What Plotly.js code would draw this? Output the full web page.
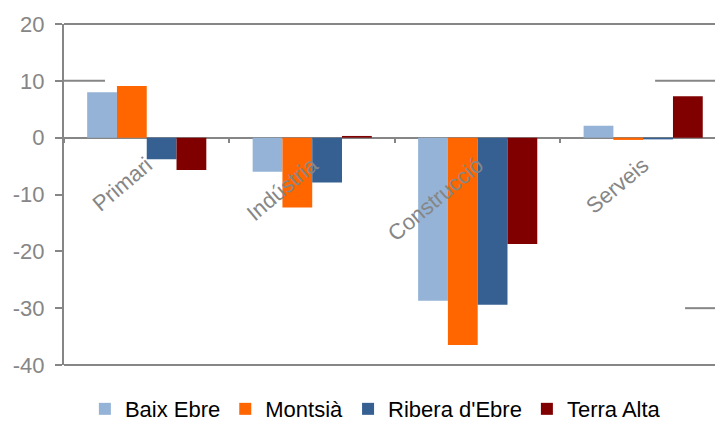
<!DOCTYPE html>
<html>
<head>
<meta charset="utf-8">
<script src="https://cdn.plot.ly/plotly-3.0.1.min.js"></script>
<style>html,body{margin:0;padding:0;background:#fff;}#chart{width:715px;height:423px;}</style>
</head>
<body>
<div id="chart"></div>
<script>
const categories = ["Primari", "Indústria", "Construcció", "Serveis"];
const seriesNames = ["Baix Ebre", "Montsià", "Ribera d'Ebre", "Terra Alta"];
const baixEbre   = [8.0, -6.0, -28.7, 2.1];
const montsia    = [9.1, -12.3, -36.5, -0.4];
const riberaEbre = [-3.8, -7.9, -29.4, -0.3];
const terraAlta  = [-5.7, 0.3, -18.7, 7.3];
const yTickVals = [20, 10, 0, -10, -20, -30, -40];
const yTickText = ["20", "10", "0", "-10", "-20", "-30", "-40"];
const colors = ["#95B3D7", "#FF6600", "#366092", "#800000"];

const values = [baixEbre, montsia, riberaEbre, terraAlta];
const traces = values.map((v, i) => ({
  type: 'bar',
  name: seriesNames[i],
  x: categories,
  y: v,
  marker: {color: colors[i], line: {width: 0}}
}));

const gray = '#868686';
const frame = (x0, x1, y, yref) => ({type: 'line', xref: 'paper', yref: yref, x0: x0, x1: x1, y0: y, y1: y, line: {color: gray, width: 2}, layer: 'below'});
const layout = {
  width: 715, height: 423,
  margin: {l: 64, r: 0, t: 24, b: 58},
  paper_bgcolor: '#fff', plot_bgcolor: '#fff',
  font: {family: 'Arial, Liberation Sans, sans-serif', color: gray, size: 22},
  barmode: 'group',
  bargap: 0.28,
  bargroupgap: 0,
  showlegend: true,
  legend: {
    orientation: 'h', xref: 'container', yref: 'container',
    x: 0.525, xanchor: 'center', y: 0.033, yanchor: 'middle',
    font: {color: '#000', size: 22}, traceorder: 'normal'
  },
  xaxis: {
    type: 'category',
    range: [-0.5, 3.434],
    anchor: 'free', position: 0.668,
    showline: false, showgrid: false, zeroline: false,
    ticks: 'outside', tickson: 'boundaries', ticklen: 5, tickwidth: 2, tickcolor: gray,
    tickangle: -40, ticklabelstandoff: 10,
    tickfont: {size: 22, color: gray},
    automargin: false
  },
  yaxis: {
    range: [-40, 20],
    tickvals: yTickVals,
    ticktext: yTickText,
    ticks: 'outside', ticklen: 7, tickwidth: 2, tickcolor: gray,
    ticklabelstandoff: 6,
    showline: true, linecolor: gray, linewidth: 2,
    showgrid: false,
    zeroline: true, zerolinecolor: gray, zerolinewidth: 2,
    tickfont: {size: 22, color: gray},
    automargin: false
  },
  shapes: [
    frame(0, 1, 1, 'paper'),
    frame(0, 1, 0, 'paper'),
    frame(0, 0.063, 10, 'y'),
    frame(0.908, 1, 10, 'y'),
    frame(0.954, 1, -30, 'y')
  ]
};

Plotly.newPlot('chart', traces, layout, {staticPlot: true, displayModeBar: false});
</script>
</body>
</html>
